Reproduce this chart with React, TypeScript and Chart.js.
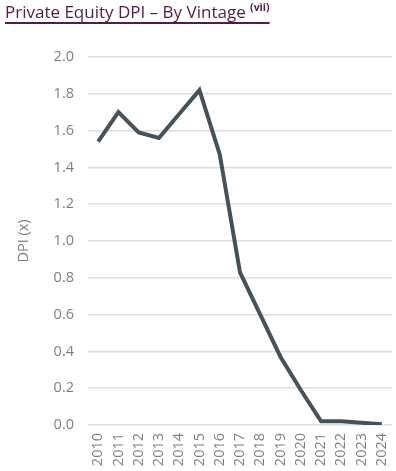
import React, { useEffect, useRef } from "react";
import { Chart, registerables } from "chart.js";

Chart.register(...registerables);

const vintages = ["2010","2011","2012","2013","2014","2015","2016","2017","2018","2019","2020","2021","2022","2023","2024"];
const dpiValues = [1.54, 1.70, 1.59, 1.56, 1.69, 1.82, 1.47, 0.83, 0.60, 0.37, 0.19, 0.02, 0.02, 0.012, 0.004];
const yTicks = [0, 0.2, 0.4, 0.6, 0.8, 1.0, 1.2, 1.4, 1.6, 1.8, 2.0];

export default function App() {
  const ref = useRef<HTMLCanvasElement>(null);
  useEffect(() => {
    document.body.style.margin = "0";
    const chart = new Chart(ref.current!, {
      type: "line",
      data: {
        labels: vintages,
        datasets: [{
          data: dpiValues,
          borderColor: "#46525a",
          borderWidth: 4,
          pointRadius: 0,
          tension: 0,
          fill: false,
        }],
      },
      options: {
        animation: false,
        responsive: false,
        maintainAspectRatio: false,
        layout: { padding: { top: 57, right: 4, left: 0, bottom: 0 } },
        plugins: { legend: { display: false }, tooltip: { enabled: false } },
        scales: {
          x: {
            offset: true,
            grid: { display: false, drawTicks: false },
            border: { display: false },
            ticks: {
              minRotation: 90, maxRotation: 90, autoSkip: false,
              color: "#7f7f7f", padding: 8,
              font: { family: "Open Sans", size: 14.5 },
            },
            afterFit: (s: any) => { s.height = 46; s.paddingLeft = 0; s.paddingRight = 0; },
          },
          y: {
            min: 0, max: 2,
            afterBuildTicks: (s: any) => { s.ticks = yTicks.map(v => ({ value: v })); },
            grid: { color: "#dedede", lineWidth: 1.5, drawTicks: false },
            border: { display: false },
            ticks: {
              color: "#7f7f7f", padding: 14,
              font: { family: "Open Sans", size: 14.5 },
              callback: (v: any) => Number(v).toFixed(1),
            },
            title: { display: true, text: "DPI (x)", color: "#7f7f7f", font: { family: "Open Sans", size: 14.5 }, padding: { top: 15, bottom: 0 } },
            afterFit: (s: any) => { s.width = 88; s.paddingTop = 0; s.paddingBottom = 0; },
          },
        },
      },
    });
    return () => chart.destroy();
  }, []);
  return (
    <div style={{ position: "relative", width: 396, height: 471 }}>
      <canvas ref={ref} width={396} height={471} style={{ position: "absolute", left: 0, top: 0 }} />
      <div style={{ position: "absolute", left: 5, top: 0, fontFamily: "Open Sans", fontSize: 17, fontWeight: 500, color: "#5a1846", textDecoration: "underline", textDecorationThickness: 1.5, textUnderlineOffset: 4, whiteSpace: "nowrap" }}>
        Private Equity DPI – By Vintage <sup style={{ fontSize: 10.5, fontWeight: 700 }}>(vii)</sup>
      </div>
    </div>
  );
}
